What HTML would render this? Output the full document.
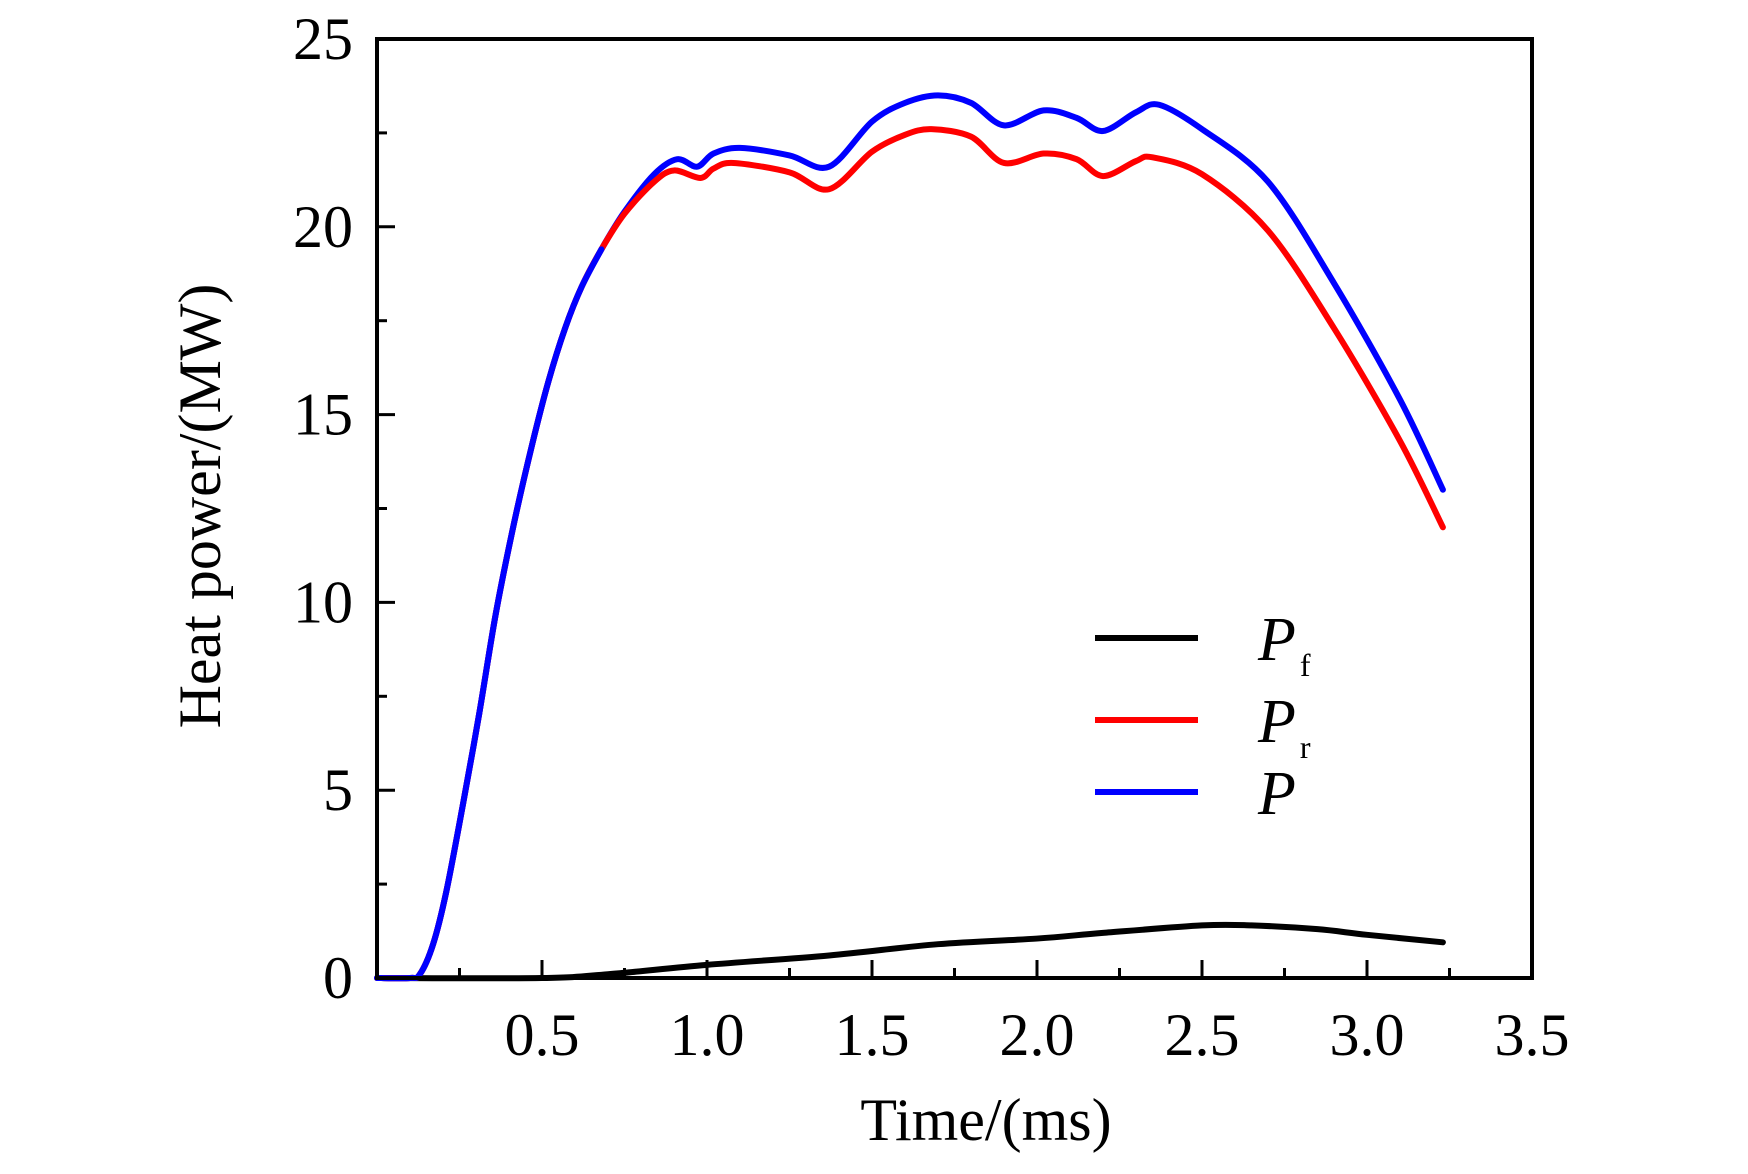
<!DOCTYPE html>
<html><head><meta charset="utf-8"><style>
html,body{margin:0;padding:0;background:#fff;}
svg text{font-family:"Liberation Serif",serif;fill:#000;}
</style></head><body>
<svg id="chart" width="1748" height="1169" viewBox="0 0 1748 1169" xmlns="http://www.w3.org/2000/svg">
<g id="axes"></g>
<g id="series"></g>
<rect x="377" y="39" width="1155" height="939" fill="none" stroke="#000" stroke-width="4"/>
<text x="986" y="1140" font-size="60" text-anchor="middle">Time/(ms)</text>
<text transform="translate(220,506) rotate(-90)" font-size="60" text-anchor="middle">Heat power/(MW)</text>
<g>
<line x1="1095" y1="638" x2="1198" y2="638" stroke="#000" stroke-width="6"/>
<text x="1258" y="660" font-size="62" font-style="italic">P<tspan font-size="32" font-style="normal" dx="4" dy="16">f</tspan></text>
<line x1="1095" y1="720" x2="1198" y2="720" stroke="#f00" stroke-width="6"/>
<text x="1258" y="742" font-size="62" font-style="italic">P<tspan font-size="32" font-style="normal" dx="4" dy="16">r</tspan></text>
<line x1="1095" y1="792" x2="1198" y2="792" stroke="#00f" stroke-width="6"/>
<text x="1258" y="814" font-size="62" font-style="italic">P</text>
</g>
</svg>
<script>
const xTicks=[0.5,1.0,1.5,2.0,2.5,3.0,3.5];
const xTickLabels=["0.5","1.0","1.5","2.0","2.5","3.0","3.5"];
const yTicks=[0,5,10,15,20,25];
const yTickLabels=["0","5","10","15","20","25"];
const tP=[0,0.1,0.13,0.17,0.21,0.26,0.31,0.36,0.415,0.47,0.52,0.57,0.62,0.68,0.75,0.84,0.91,0.97,1.02,1.1,1.25,1.37,1.5,1.6,1.7,1.8,1.9,2.02,2.12,2.2,2.3,2.37,2.5,2.7,2.9,3.1,3.23];
const vP=[0,0,0.1,0.9,2.3,4.6,7.05,9.7,12.1,14.2,15.9,17.3,18.4,19.4,20.4,21.4,21.8,21.6,21.95,22.1,21.9,21.6,22.8,23.3,23.5,23.3,22.7,23.1,22.9,22.55,23.05,23.25,22.6,21.2,18.5,15.4,13.0];
const tPr=[0,0.1,0.13,0.17,0.21,0.26,0.31,0.36,0.415,0.47,0.52,0.57,0.62,0.68,0.75,0.84,0.9,0.98,1.02,1.08,1.25,1.37,1.5,1.6,1.68,1.8,1.9,2.02,2.12,2.2,2.3,2.35,2.5,2.7,2.9,3.1,3.23];
const vPr=[0,0,0.1,0.9,2.3,4.6,7.05,9.7,12.1,14.2,15.9,17.3,18.4,19.4,20.35,21.2,21.5,21.3,21.55,21.7,21.45,21.0,22.0,22.45,22.6,22.4,21.7,21.95,21.8,21.35,21.75,21.85,21.4,19.9,17.3,14.3,12.0];
const tPf=[0,0.5,0.7,1.0,1.37,1.7,2.0,2.2,2.5,2.65,2.85,3.0,3.23];
const vPf=[0,0,0.1,0.35,0.6,0.9,1.05,1.2,1.4,1.4,1.3,1.15,0.95];
const X0=377,X1=1532,Y0=978,Y1=39;
const sx=v=>X0+(v/3.5)*(X1-X0);
const sy=v=>Y0-(v/25)*(Y0-Y1);
const NS="http://www.w3.org/2000/svg";
const axes=document.getElementById('axes');
function mk(tag,attrs,parent){const e=document.createElementNS(NS,tag);for(const k in attrs)e.setAttribute(k,attrs[k]);parent.appendChild(e);return e;}
for(let i=1;i<14;i++){const v=i*0.25;const major=i%2===0;
 const l=mk('line',{x1:sx(v),x2:sx(v),y1:Y0,y2:Y0-(major?18:10),stroke:'#000','stroke-width':3},axes);
 
 }
xTicks.forEach((v,i)=>{const t=mk('text',{x:sx(v),y:1055,'font-size':60,'text-anchor':'middle'},axes);t.textContent=xTickLabels[i];
 
 });
for(let i=1;i<10;i++){const v=i*2.5;const major=i%2===0;
 const l=mk('line',{x1:X0,x2:X0+(major?18:10),y1:sy(v),y2:sy(v),stroke:'#000','stroke-width':3},axes);
 
 }
yTicks.forEach((v,i)=>{const t=mk('text',{x:353,y:sy(v)+20,'font-size':60,'text-anchor':'end'},axes);t.textContent=yTickLabels[i];
 
 });
function path(ts,vs){const p=ts.map((t,i)=>[sx(t),sy(vs[i])]);let d=`M${p[0][0]},${p[0][1]}`;
 for(let i=0;i<p.length-1;i++){const a=p[Math.max(0,i-1)],b=p[i],c=p[i+1],e=p[Math.min(p.length-1,i+2)];
 const k=0.16;d+=` C${b[0]+(c[0]-a[0])*k},${b[1]+(c[1]-a[1])*k} ${c[0]-(e[0]-b[0])*k},${c[1]-(e[1]-b[1])*k} ${c[0]},${c[1]}`;}
 return d;}
const ser=document.getElementById('series');
const s1=mk('path',{d:path(tPf,vPf),fill:'none',stroke:'#000','stroke-width':6,'stroke-linecap':'round'},ser);


const s2=mk('path',{d:path(tP,vP),fill:'none',stroke:'#00f','stroke-width':6,'stroke-linecap':'round'},ser);


const s3=mk('path',{d:path(tPr,vPr),fill:'none',stroke:'#f00','stroke-width':6,'stroke-linecap':'round'},ser);


const s4=mk('path',{d:path(tP.slice(0,14),vP.slice(0,14)),fill:'none',stroke:'#00f','stroke-width':6,'stroke-linecap':'round'},ser);


</script>
</body></html>
